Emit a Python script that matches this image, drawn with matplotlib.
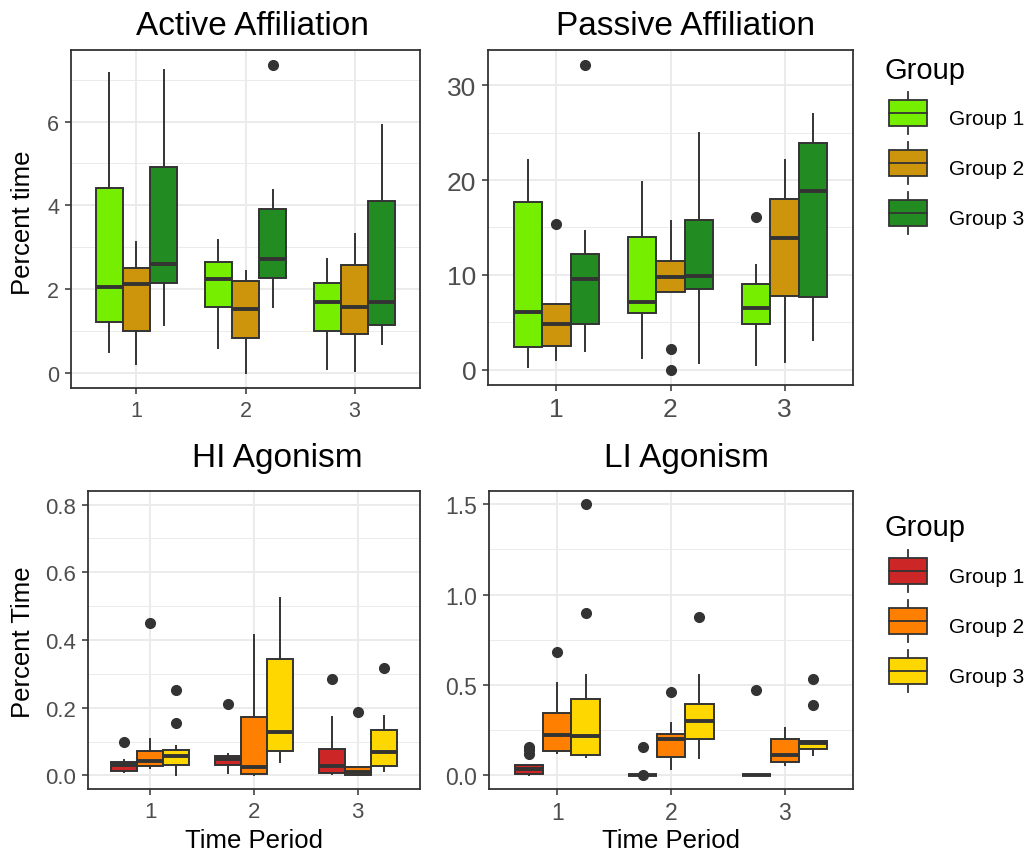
import matplotlib
matplotlib.use("Agg")
import matplotlib.pyplot as plt
from matplotlib.patches import Patch, Rectangle
from matplotlib.lines import Line2D
from matplotlib.legend_handler import HandlerBase

plt.rcParams["font.family"] = ["Liberation Sans", "DejaVu Sans"]

periods = [1, 2, 3]
groups = ["Group 1", "Group 2", "Group 3"]

# box stats, one row per group, one value per time period
active_med = [[2.04, 2.24, 1.69], [2.12, 1.53, 1.57], [2.60, 2.72, 1.69]]
active_q1 = [[1.21, 1.58, 0.99], [0.99, 0.83, 0.92], [2.15, 2.27, 1.13]]
active_q3 = [[4.41, 2.64, 2.14], [2.50, 2.19, 2.58], [4.92, 3.91, 4.09]]
active_lo = [[0.49, 0.60, 0.08], [0.20, 0.00, 0.05], [1.14, 1.57, 0.69]]
active_hi = [[7.15, 3.16, 2.71], [3.12, 2.42, 3.31], [7.23, 4.36, 5.92]]
active_out = [[[], [], []], [[], [], []], [[], [7.34], []]]

passive_med = [[6.1, 7.15, 6.52], [4.87, 9.78, 13.92], [9.6, 9.85, 18.82]]
passive_q1 = [[2.42, 5.99, 4.87], [2.52, 8.17, 7.82], [4.87, 8.55, 7.64]]
passive_q3 = [[17.67, 13.95, 9.08], [6.97, 11.43, 18.02], [12.16, 15.81, 23.9]]
passive_lo = [[0.25, 1.26, 0.49], [1.02, 8.17, 0.84], [1.96, 0.74, 3.19]]
passive_hi = [[22.1, 19.77, 11.08], [6.97, 15.63, 22.15], [14.6, 24.92, 26.99]]
passive_out = [[[], [], [16.09]], [[15.35], [2.24, 0.0], []], [[32.1], [], []]]

hi_med = [[0.032, 0.049, 0.028], [0.044, 0.024, 0.010], [0.056, 0.128, 0.069]]
hi_q1 = [[0.013, 0.031, 0.008], [0.029, 0.005, 0.002], [0.032, 0.071, 0.029]]
hi_q3 = [[0.039, 0.058, 0.079], [0.072, 0.172, 0.024], [0.076, 0.345, 0.135]]
hi_lo = [[0.010, 0.008, 0.005], [0.022, 0.002, 0.0], [0.0, 0.041, 0.013]]
hi_hi = [[0.045, 0.064, 0.172], [0.108, 0.415, 0.024], [0.088, 0.523, 0.177]]
hi_out = [[[0.098], [0.21], [0.284]], [[0.451], [], [0.188]],
          [[0.253, 0.156], [], [0.317]]]

li_med = [[0.037, 0.0, 0.0], [0.221, 0.203, 0.111], [0.217, 0.30, 0.181]]
li_q1 = [[0.006, 0.0, 0.0], [0.135, 0.10, 0.074], [0.111, 0.199, 0.146]]
li_q3 = [[0.055, 0.005, 0.005], [0.348, 0.227, 0.203], [0.42, 0.396, 0.193]]
li_lo = [[0.0, 0.0, 0.0], [0.125, 0.033, 0.059], [0.10, 0.096, 0.114]]
li_hi = [[0.06, 0.005, 0.005], [0.51, 0.289, 0.264], [0.553, 0.558, 0.193]]
li_out = [[[0.157, 0.14, 0.12], [0.16, 0.0], [0.472]],
          [[0.68], [0.464], []], [[1.5, 0.896], [0.875], [0.533, 0.387]]]

greens = ["#76EE00", "#CD950C", "#228B22"]
warm = ["#CD2626", "#FF7F00", "#FFD700"]

DARK = "#333333"
W, H = 1031, 854


def fig_rect(left, top, right, bottom):
    return [left / W, 1 - bottom / H, (right - left) / W, (bottom - top) / H]


def make_stats(med, q1, q3, lo, hi, out):
    stats = []
    for i in range(len(med)):
        stats.append({"med": med[i], "q1": q1[i], "q3": q3[i],
                      "whislo": lo[i], "whishi": hi[i], "fliers": out[i]})
    return stats


def draw_panel(ax, meds, q1s, q3s, los, his, outs, colors, ylim, yticks,
               yminor, fmt, ticksize):
    ax.set_axisbelow(True)
    for g in range(3):
        stats = make_stats(meds[g], q1s[g], q3s[g], los[g], his[g], outs[g])
        pos = [p + (g - 1) * 0.25 for p in periods]
        ax.bxp(stats, positions=pos, widths=0.25, patch_artist=True,
               showcaps=False, manage_ticks=False,
               boxprops=dict(facecolor=colors[g], edgecolor=DARK, linewidth=1.4),
               medianprops=dict(color=DARK, linewidth=2.8),
               whiskerprops=dict(color=DARK, linewidth=1.4),
               flierprops=dict(marker="o", markerfacecolor=DARK,
                               markeredgecolor=DARK, markersize=7))
    ax.set_xlim(0.4, 3.6)
    ax.set_ylim(*ylim)
    ax.set_xticks(periods)
    ax.set_xticklabels([str(p) for p in periods])
    ax.set_yticks(yticks)
    ax.set_yticklabels([fmt.format(v) for v in yticks])
    ax.set_yticks(yminor, minor=True)
    ax.grid(which="major", color="#EBEBEB", linewidth=1.4)
    ax.grid(which="minor", axis="y", color="#EBEBEB", linewidth=0.7)
    ax.tick_params(which="major", length=4, width=1.1, color=DARK,
                   labelcolor="#4D4D4D", labelsize=ticksize, pad=4.5)
    ax.tick_params(which="minor", length=0)
    for s in ax.spines.values():
        s.set_color(DARK)
        s.set_linewidth(1.3)


class BoxKey(HandlerBase):
    # ggplot style key: box with median line and whiskers, lifted a little
    def create_artists(self, legend, orig_handle, xdescent, ydescent,
                       width, height, fontsize, trans):
        x0 = -xdescent
        y0 = -ydescent + 3.6
        bh = height * 0.62
        by = y0 + (height - bh) / 2
        xm = x0 + width / 2
        low = Line2D([xm, xm], [y0, by], color=DARK, lw=1.3, transform=trans)
        top = Line2D([xm, xm], [by + bh, y0 + height], color=DARK, lw=1.3,
                     transform=trans)
        box = Rectangle((x0, by), width, bh, facecolor=orig_handle.get_facecolor(),
                        edgecolor=DARK, lw=1.3, transform=trans)
        med = Line2D([x0, x0 + width], [y0 + height / 2] * 2, color=DARK,
                     lw=1.3, transform=trans)
        return [low, top, box, med]


def add_legend(fig, colors, title_base, keys_top):
    fig.text(885 / W, 1 - title_base / H, "Group", fontsize=21,
             ha="left", va="baseline")
    handles = [Patch(facecolor=c) for c in colors]
    fs = 15 * 100 / 72
    fig.legend(handles, groups, loc="upper left",
               bbox_to_anchor=(889 / W, 1 - keys_top / H), frameon=False,
               fontsize=15, handlelength=38 / fs, handleheight=2.725,
               labelspacing=8 / fs, handletextpad=22 / fs,
               borderpad=0, borderaxespad=0,
               handler_map={Patch: BoxKey()})


fig = plt.figure(figsize=(W / 100, H / 100), dpi=100)

ax1 = fig.add_axes(fig_rect(71, 51, 420, 389))
ax2 = fig.add_axes(fig_rect(488, 51, 853, 386))
ax3 = fig.add_axes(fig_rect(88, 492, 420, 790))
ax4 = fig.add_axes(fig_rect(489, 492, 853, 790))

draw_panel(ax1, active_med, active_q1, active_q3, active_lo, active_hi,
           active_out, greens, (-0.367, 7.71), [0, 2, 4, 6], [1, 3, 5, 7],
           "{:g}", 15.5)
draw_panel(ax2, passive_med, passive_q1, passive_q3, passive_lo, passive_hi,
           passive_out, greens, (-1.6, 33.7), [0, 10, 20, 30], [5, 15, 25],
           "{:g}", 19)
draw_panel(ax3, hi_med, hi_q1, hi_q3, hi_lo, hi_hi, hi_out, warm,
           (-0.04, 0.84), [0, 0.2, 0.4, 0.6, 0.8], [0.1, 0.3, 0.5, 0.7],
           "{:.1f}", 16)
draw_panel(ax4, li_med, li_q1, li_q3, li_lo, li_hi, li_out, warm,
           (-0.075, 1.573), [0, 0.5, 1.0, 1.5], [0.25, 0.75, 1.25],
           "{:.1f}", 16.5)

fig.text(252 / W, 1 - 35 / H, "Active Affiliation", fontsize=24,
         ha="center", va="baseline")
fig.text(685 / W, 1 - 35 / H, "Passive Affiliation", fontsize=24,
         ha="center", va="baseline")
fig.text(277 / W, 1 - 467 / H, "HI Agonism", fontsize=24,
         ha="center", va="baseline")
fig.text(687 / W, 1 - 467 / H, "LI Agonism", fontsize=24,
         ha="center", va="baseline")

fig.text(23 / W, 1 - 223 / H, "Percent time", fontsize=18.5, rotation=90,
         ha="center", va="center")
fig.text(23 / W, 1 - 642 / H, "Percent Time", fontsize=18.5, rotation=90,
         ha="center", va="center")
fig.text(254 / W, 1 - 848 / H, "Time Period", fontsize=18.5,
         ha="center", va="baseline")
fig.text(671 / W, 1 - 848 / H, "Time Period", fontsize=18.5,
         ha="center", va="baseline")

add_legend(fig, greens, 79, 98)
add_legend(fig, warm, 536, 556)

fig.savefig("out.png", dpi=100)
